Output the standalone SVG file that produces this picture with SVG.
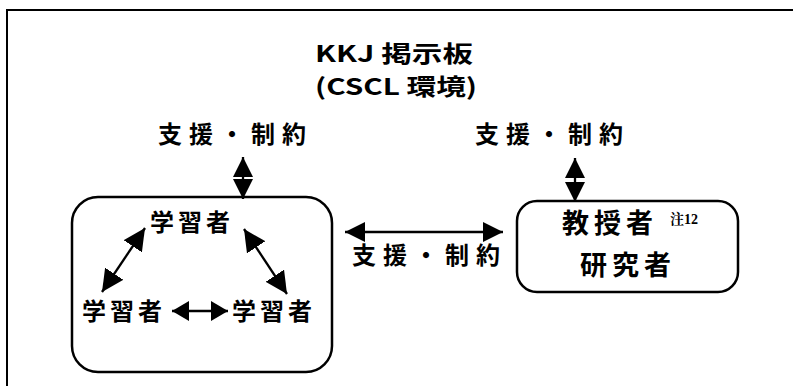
<svg xmlns="http://www.w3.org/2000/svg" width="793" height="386" viewBox="0 0 793 386">
<defs>
<style>
text{font-family:"Noto Sans CJK JP","DejaVu Sans",sans-serif;font-weight:bold;fill:#000}
.lbl{font-size:24px;letter-spacing:7px}
.node{font-size:24px;letter-spacing:4px}
.big{font-size:27px;letter-spacing:5px}
.note{font-family:"Liberation Serif","Noto Serif CJK JP",serif;font-weight:bold;font-size:14px}
.box{fill:#fff;stroke:#000;stroke-width:2.5}
.con{stroke:#000;stroke-width:2.3;fill:none}
</style>
<marker id="ah" viewBox="0 0 22 22" refX="22" refY="11" markerWidth="22" markerHeight="22" markerUnits="userSpaceOnUse" orient="auto-start-reverse"><path d="M0,0 L22,11 L0,22 z" fill="#000"/></marker>
<marker id="ahv" viewBox="0 0 20 20" refX="20" refY="10" markerWidth="20" markerHeight="20" markerUnits="userSpaceOnUse" orient="auto-start-reverse"><path d="M0,0 L20,10 L0,20 z" fill="#000"/></marker>
<marker id="ahs" viewBox="0 0 17 20" refX="17" refY="10" markerWidth="17" markerHeight="20" markerUnits="userSpaceOnUse" orient="auto-start-reverse"><path d="M0,0 L17,10 L0,20 z" fill="#000"/></marker>
</defs>
<rect width="793" height="386" fill="#fff"/>
<path d="M7,386 V10 H793" fill="none" stroke="#000" stroke-width="2"/>
<g id="title">
<text x="394" y="62" text-anchor="middle" font-size="23" textLength="158" lengthAdjust="spacingAndGlyphs">KKJ 掲示板</text>
<text x="396" y="95" text-anchor="middle" font-size="23" textLength="162" lengthAdjust="spacingAndGlyphs">(CSCL 環境)</text>
</g>
<g id="label-left"><text class="lbl" x="158" y="143">支援・制約</text></g>
<g id="label-right"><text class="lbl" x="475" y="143">支援・制約</text></g>
<g id="label-mid"><text class="lbl" x="352" y="264">支援・制約</text></g>
<g id="learners-box">
<rect class="box" x="72" y="197" width="260" height="175" rx="26"/>
<text class="node" x="150" y="231">学習者</text>
<text class="node" x="82" y="320">学習者</text>
<text class="node" x="232" y="320">学習者</text>
</g>
<g id="teacher-box">
<rect class="box" x="517" y="201" width="221" height="91" rx="20"/>
<text class="big" x="562" y="233">教授者</text>
<text class="note" x="670" y="224">注12</text>
<text class="big" x="580" y="275">研究者</text>
</g>
<g id="connectors">
<line class="con" x1="243" y1="157" x2="243" y2="199" marker-start="url(#ahv)" marker-end="url(#ahv)"/>
<line class="con" x1="575" y1="158" x2="575" y2="202" marker-start="url(#ahv)" marker-end="url(#ahv)"/>
<line class="con" x1="345" y1="232" x2="503" y2="232" marker-start="url(#ahv)" marker-end="url(#ahv)"/>
<line class="con" x1="145" y1="228" x2="102" y2="292" marker-start="url(#ah)" marker-end="url(#ah)"/>
<line class="con" x1="244" y1="229" x2="287" y2="294" marker-start="url(#ah)" marker-end="url(#ah)"/>
<line class="con" x1="172" y1="311" x2="228" y2="311" marker-start="url(#ahs)" marker-end="url(#ahs)"/>
</g>
</svg>
